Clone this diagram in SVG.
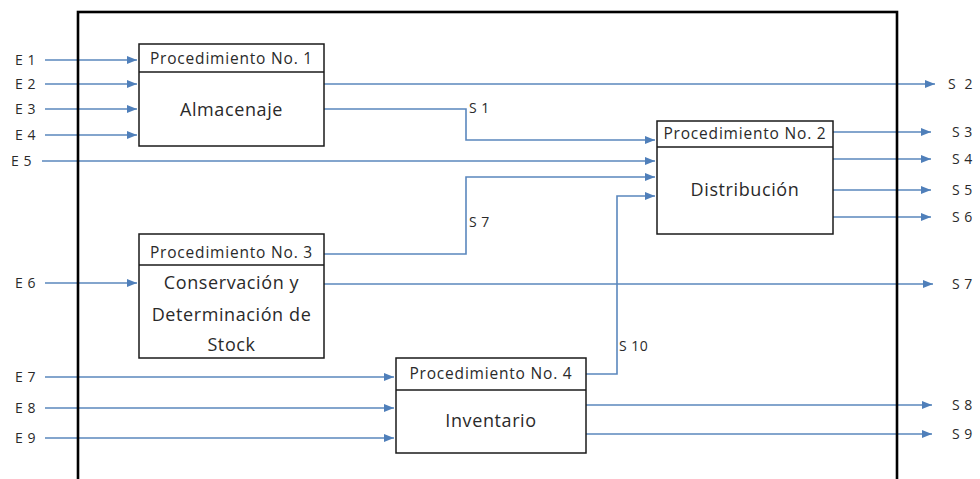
<svg xmlns="http://www.w3.org/2000/svg" width="980" height="479" viewBox="0 0 980 479">
<defs>
<marker id="arr" markerUnits="userSpaceOnUse" markerWidth="11" markerHeight="9" refX="10" refY="4" orient="auto">
<path d="M0,0 L10,4 L0,8 z" fill="#4f7fba"/>
</marker>
<style>
.c{fill:none;stroke:#5a87bd;stroke-width:1.6;}
.a{marker-end:url(#arr);}
.box{fill:#fff;stroke:#1a1a1a;stroke-width:1.5;}
.div{stroke:#1a1a1a;stroke-width:1.5;}
.frame{fill:none;stroke:#000;stroke-width:2.6;}
text{font-family:"Open Sans","Liberation Sans",sans-serif;fill:#2a2a2a;}
.h{font-size:15.5px;letter-spacing:0.8px;text-anchor:middle;}
.b{font-size:18px;letter-spacing:0.6px;text-anchor:middle;}
.l{font-size:14px;letter-spacing:0.5px;}
</style>
</defs>
<rect x="0" y="0" width="980" height="479" fill="#fff"/>
<g id="connectors">
<line class="c a" x1="45" y1="60" x2="137" y2="60"/>
<line class="c a" x1="45" y1="84" x2="137" y2="84"/>
<line class="c a" x1="45" y1="109" x2="137" y2="109"/>
<line class="c a" x1="45" y1="135" x2="137" y2="135"/>
<line class="c a" x1="42" y1="161" x2="655" y2="161"/>
<line class="c a" x1="45" y1="283" x2="137" y2="283"/>
<line class="c a" x1="45" y1="377" x2="394" y2="377"/>
<line class="c a" x1="45" y1="408" x2="394" y2="408"/>
<line class="c a" x1="45" y1="438" x2="394" y2="438"/>
<line class="c a" x1="324" y1="84" x2="935" y2="84"/>
<polyline class="c a" points="324,109 466,109 466,140 655,140"/>
<polyline class="c a" points="324,254 466,254 466,177 655,177"/>
<line class="c a" x1="324" y1="284" x2="933" y2="284"/>
<polyline class="c a" points="586,374 617,374 617,196 655,196"/>
<line class="c a" x1="833" y1="132" x2="931" y2="132"/>
<line class="c a" x1="833" y1="159" x2="931" y2="159"/>
<line class="c a" x1="833" y1="190" x2="931" y2="190"/>
<line class="c a" x1="833" y1="217" x2="931" y2="217"/>
<line class="c a" x1="586" y1="405" x2="932" y2="405"/>
<line class="c a" x1="586" y1="434" x2="932" y2="434"/>
</g>
<rect id="frame" class="frame" x="78" y="12" width="819" height="490"/>
<g id="labels">
<text class="l" x="15" y="65">E 1</text>
<text class="l" x="15" y="89">E 2</text>
<text class="l" x="15" y="114">E 3</text>
<text class="l" x="15" y="140">E 4</text>
<text class="l" x="11" y="166">E 5</text>
<text class="l" x="15" y="288">E 6</text>
<text class="l" x="15" y="382">E 7</text>
<text class="l" x="15" y="413">E 8</text>
<text class="l" x="15" y="443">E 9</text>
<text class="l" x="469" y="113">S 1</text>
<text class="l" x="469" y="227">S 7</text>
<text class="l" x="619" y="351">S 10</text>
<text class="l" x="948" y="89" xml:space="preserve">S  2</text>
<text class="l" x="952" y="137">S 3</text>
<text class="l" x="952" y="164">S 4</text>
<text class="l" x="952" y="195">S 5</text>
<text class="l" x="952" y="222">S 6</text>
<text class="l" x="952" y="289">S 7</text>
<text class="l" x="952" y="410">S 8</text>
<text class="l" x="952" y="439">S 9</text>
</g>
<g id="proc1">
<rect class="box" x="139" y="44" width="185" height="102"/>
<line class="div" x1="139" y1="72" x2="324" y2="72"/>
<text class="h" x="231.5" y="64">Procedimiento No. 1</text>
<text class="b" x="231.5" y="116">Almacenaje</text>
</g>
<g id="proc2">
<rect class="box" x="657" y="121" width="176" height="113"/>
<line class="div" x1="657" y1="147" x2="833" y2="147"/>
<text class="h" x="745" y="139">Procedimiento No. 2</text>
<text class="b" x="745" y="196">Distribución</text>
</g>
<g id="proc3">
<rect class="box" x="139" y="234" width="185" height="124"/>
<line class="div" x1="139" y1="265" x2="324" y2="265"/>
<text class="h" x="231.5" y="258">Procedimiento No. 3</text>
<text class="b" x="231.5" y="289">Conservación y</text>
<text class="b" x="231.5" y="321">Determinación de</text>
<text class="b" x="231.5" y="351">Stock</text>
</g>
<g id="proc4">
<rect class="box" x="396" y="358" width="190" height="95"/>
<line class="div" x1="396" y1="390" x2="586" y2="390"/>
<text class="h" x="491" y="379">Procedimiento No. 4</text>
<text class="b" x="491" y="427">Inventario</text>
</g>
</svg>
